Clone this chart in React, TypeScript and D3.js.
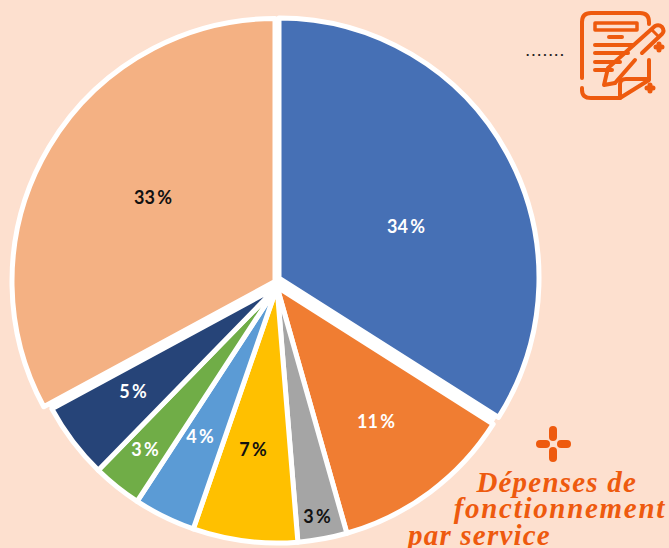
import React from "react";
import * as d3 from "d3";

const services = ["Bleu", "Orange", "Gris", "Jaune", "Bleu clair", "Vert", "Marine", "Pêche"];
const shares = [34, 11.6, 3.1, 6.6, 3.9, 3.1, 4.8, 32.9];
const labels = ["34 %", "11 %", "3 %", "7 %", "4 %", "3 %", "5 %", "33 %"];
const colors = ["#4670B5", "#F07D32", "#A5A5A5", "#FFC000", "#5B9BD5", "#70AD47", "#264478", "#F4B183"];
const labelColors = ["#fff", "#fff", "#111", "#111", "#fff", "#fff", "#fff", "#111"];
const titleLines = ["Dépenses de", "fonctionnement", "par service"];

const W = 669, H = 548;
const ORANGE = "#EE5A0E";
// layout: each slice's own centre and radius (the blue and peach slices are pulled out)
const sliceCentre: [number, number][] = [[279, 278], [277, 287], [277, 287], [277, 287], [277, 287], [277, 287], [277, 287], [275, 281.5]];
const sliceRadius = [260, 256, 256, 256, 256, 256, 256, 263];
const labelAt: [number, number][] = [[406, 226], [376, 421], [317, 516], [253, 449], [200, 436], [145, 449], [133, 391], [153, 197]];
const titleSpacing = [1.2, 1.7, 1.2];

export default function App() {
  const pie = d3.pie<number>().sort(null)(shares);
  return (
    <svg width={W} height={H} viewBox={`0 0 ${W} ${H}`}
      style={{ position: "absolute", left: 0, top: 0, display: "block", background: "#FDE0CF" }}>
      <circle cx={276} cy={282} r={259} fill="#fff" />
      {pie.map((p, i) => {
        const arc = d3.arc<d3.PieArcDatum<number>>().innerRadius(0).outerRadius(sliceRadius[i]);
        return (
          <path key={services[i]} d={arc(p) as string} fill={colors[i]} stroke="#fff" strokeWidth={5}
            strokeLinejoin="round" transform={`translate(${sliceCentre[i][0]},${sliceCentre[i][1]})`} />
        );
      })}
      {pie.map((p, i) => (
        <text key={i} x={labelAt[i][0]} y={labelAt[i][1]} textAnchor="middle" dominantBaseline="central"
          fontFamily="Lato, sans-serif" fontWeight={700} fontSize={18} wordSpacing={-2} fill={labelColors[i]}>
          {labels[i]}
        </text>
      ))}
      <text x={526} y={56} fontFamily="Lato, sans-serif" fontSize={14} fontWeight={700} fill="#222" letterSpacing={2.4}>.......</text>
      <g fill="none" stroke={ORANGE} strokeWidth={4} strokeLinecap="round" strokeLinejoin="round">
        <path d="M582 78 V22 Q582 13 591 13 H640 Q649 13 649 22 V24" />
        <path d="M582 88 V90 Q582 98 591 98 H620 L649 80 V60" />
        <path d="M620 98 V84 Q620 79 626 79 H648" />
        <rect x="595" y="23" width="42" height="7" strokeWidth={3.5} />
        <path d="M609 37 H622 M595 45 H633 M595 53 H628 M595 62 H620 M595 70 H612" />
        <path d="M615 83 L604 85 L608 68 L655 26 Q659 24 662 27 Q665 31 662 34 L642 53" />
        <path d="M635 60 L615 83" />
        <path d="M652 30 L659 37" strokeWidth={3} />
      </g>
      <path d="M656 47 H662 M659 44 V50 M647 88 H653 M650 85 V91" stroke={ORANGE} strokeWidth={5} strokeLinecap="round" />
      <g fill={ORANGE}>
        <rect x="549" y="426" width="8" height="15" rx="4" />
        <rect x="549" y="447" width="8" height="15" rx="4" />
        <rect x="536" y="440" width="14" height="8" rx="4" />
        <rect x="557" y="440" width="14" height="8" rx="4" />
      </g>
      <g fontFamily="'Liberation Serif', serif" fontStyle="italic" fontWeight={700} fontSize={29} fill={ORANGE}>
        <text x={637} y={492} textAnchor="end" letterSpacing={titleSpacing[0]}>{titleLines[0]}</text>
        <text x={666} y={518} textAnchor="end" letterSpacing={titleSpacing[1]}>{titleLines[1]}</text>
        <text x={408} y={545} letterSpacing={titleSpacing[2]}>{titleLines[2]}</text>
      </g>
    </svg>
  );
}
